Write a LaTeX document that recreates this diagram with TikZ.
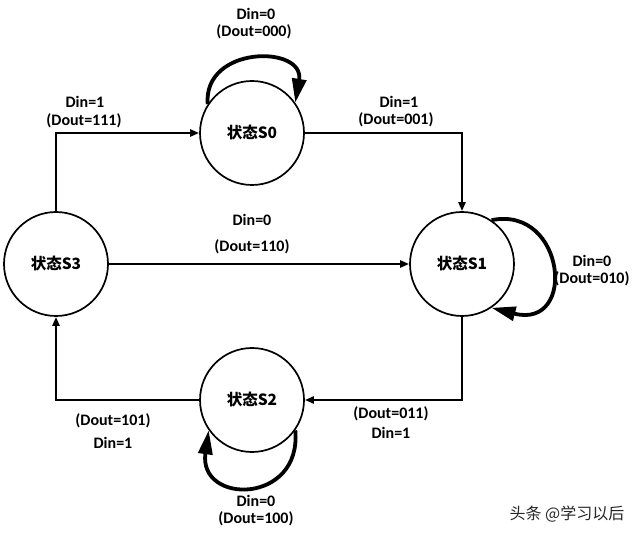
\documentclass[tikz,border=0pt]{standalone}
\usepackage{fontspec}
\setmainfont{Carlito}
\newfontfamily\cjk{Noto Sans CJK SC}
\usetikzlibrary{arrows.meta}
\begin{document}
\begin{tikzpicture}[x=1pt,y=-1pt,
  state/.style={circle,draw,line width=1.7pt,minimum size=104pt,inner sep=0pt,
    font=\cjk\bfseries\fontsize{15.5}{18}\selectfont},
  conn/.style={line width=2.3pt,-{Triangle[length=9pt,width=7pt]}},
  loopar/.style={line width=3.8pt,-{Triangle[length=24pt,width=14pt]}},
  lbl/.style={font=\bfseries\fontsize{16}{18}\selectfont,inner sep=0pt},
  wm/.style={font=\cjk\fontsize{16}{18}\selectfont,text=black!85,inner sep=0pt}]
\useasboundingbox[fill=white] (0,0) rectangle (640,537);

\node[state] (s0) at (252,133) {状态S0};
\node[state] (s1) at (462,264) {状态S1};
\node[state] (s2) at (252,400) {状态S2};
\node[state] (s3) at (56,264) {状态S3};

\draw[conn] (s3.north) |- (s0.west);
\draw[conn] (s0.east) -| (s1.north);
\draw[conn] (s3.east) -- (s1.west);
\draw[conn] (s1.south) |- (s2.east);
\draw[conn] (s2.west) -| (s3.south);

\draw[loopar] (s0.147) .. controls (203,45) and (305,45) .. (s0.35);
\draw[loopar] (s1.56) .. controls (565,205) and (578,330) .. (s1.-56);
\draw[loopar] (s2.-35) .. controls (302,505) and (198,505) .. (s2.215);

\node[lbl] (a1) at (85,102) {Din=1};
\node[lbl] (a2) at (84,121) {(Dout=111)};
\node[lbl] (b1) at (399,102) {Din=1};
\node[lbl] (b2) at (396,120) {(Dout=001)};
\node[lbl] (c1) at (252,220) {Din=0};
\node[lbl] (c2) at (252,247) {(Dout=110)};
\node[lbl] (d1) at (391,414) {(Dout=011)};
\node[lbl] (d2) at (391,433) {Din=1};
\node[lbl] (e1) at (113,421) {(Dout=101)};
\node[lbl] (e2) at (113,443) {Din=1};
\node[lbl] (f1) at (256,14) {Din=0};
\node[lbl] (f2) at (254,32) {(Dout=000)};
\node[lbl] (g1) at (592,261) {Din=0};
\node[lbl] (g2) at (592,279) {(Dout=010)};
\node[lbl] (h1) at (256,501) {Din=0};
\node[lbl] (h2) at (256,519) {(Dout=100)};

\node[wm] (w) at (567,514) {头条 @学习以后};
\end{tikzpicture}
\end{document}
